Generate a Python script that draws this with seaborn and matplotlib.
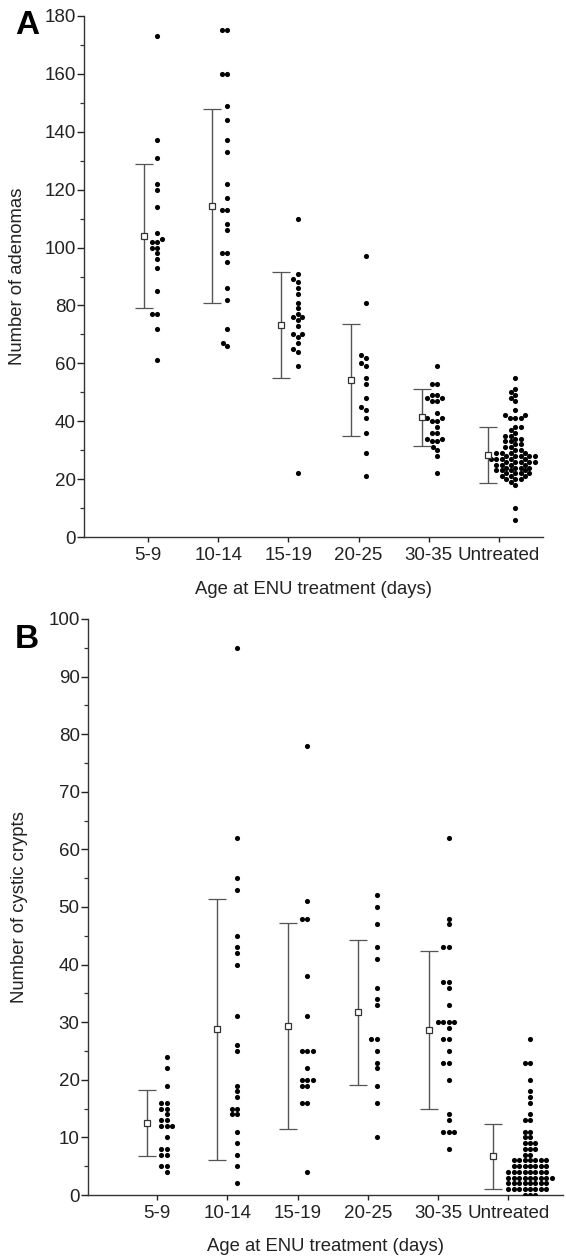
import numpy as np
import pandas as pd
import matplotlib
matplotlib.use("Agg")
import matplotlib.pyplot as plt
import seaborn as sns
from matplotlib.ticker import MultipleLocator

# ---------------- data ----------------
groups = ["5-9", "10-14", "15-19", "20-25", "30-35", "Untreated"]

# Panel A: number of adenomas per mouse
a_5_9 = [173, 137, 131, 122, 120, 114, 105, 103, 102, 102, 100, 100, 98, 96, 93, 85, 77, 77, 72, 61]
a_10_14 = [175, 175, 160, 160, 149, 144, 137, 133, 122, 117, 113, 113, 108, 106, 98, 98, 95, 86, 82, 72, 67, 66]
a_15_19 = [110, 91, 89, 88, 86, 84, 81, 79, 77, 76, 76, 75, 73, 70, 70, 69, 67, 65, 64, 59, 22]
a_20_25 = [97, 81, 63, 62, 60, 59, 55, 53, 48, 45, 44, 41, 36, 29, 21]
a_30_35 = [59, 53, 53, 49, 49, 48, 48, 47, 47, 43, 41, 41, 40, 40, 38, 36, 36, 34, 34, 33, 33, 31, 30, 28, 22]
a_untreated = [55, 51, 50, 49, 48, 47, 44, 42, 42, 41, 41, 41, 38, 38, 37, 36, 35, 35, 34, 34,
               33, 33, 32, 32, 31, 31, 30, 30, 29, 29, 29, 29, 28, 28, 28, 28, 28, 27, 27, 27,
               27, 27, 26, 26, 26, 26, 26, 25, 25, 25, 25, 24, 24, 24, 24, 23, 23, 23, 23, 22,
               22, 22, 22, 21, 21, 21, 20, 20, 20, 19, 18, 10, 6]
a_mean = [104.0, 114.3, 73.3, 54.3, 41.4, 28.3]
a_sd = [25.0, 33.5, 18.2, 19.3, 9.8, 9.7]

# Panel B: number of cystic crypts per mouse
b_5_9 = [24, 22, 19, 16, 16, 15, 15, 14, 13, 13, 12, 12, 12, 10, 8, 8, 7, 7, 5, 5, 4]
b_10_14 = [95, 62, 55, 53, 45, 43, 42, 40, 31, 26, 25, 19, 18, 17, 15, 15, 14, 14, 11, 9, 7, 5, 2]
b_15_19 = [78, 51, 48, 48, 38, 31, 25, 25, 25, 22, 20, 20, 20, 19, 19, 16, 16, 4]
b_20_25 = [52, 50, 47, 43, 41, 36, 34, 33, 27, 27, 25, 23, 22, 19, 16, 10]
b_30_35 = [62, 48, 47, 43, 43, 37, 37, 36, 33, 30, 30, 30, 30, 29, 27, 27, 25, 23, 23, 20, 14, 13, 11, 11, 11, 8]
b_untreated = [27, 23, 23, 20, 18, 17, 16, 14, 13, 13, 11, 11, 10, 10, 9, 9, 9, 8, 8, 8, 7, 7,
               6, 6, 6, 6, 6, 6, 6, 5, 5, 5, 5, 5, 5, 5, 4, 4, 4, 4, 4, 4, 4, 4,
               3, 3, 3, 3, 3, 3, 3, 3, 3, 2, 2, 2, 2, 2, 2, 2, 2, 1, 1, 1, 1, 1, 1, 1, 1, 0, 0, 0]
b_mean = [12.5, 28.8, 29.3, 31.7, 28.7, 6.7]
b_sd = [5.75, 22.65, 17.85, 12.65, 13.7, 5.7]

a_yticks = list(range(0, 181, 20))
b_yticks = list(range(0, 101, 10))

# ---------------- style ----------------
sns.set_theme(style="ticks")
plt.rcParams["font.family"] = ["Liberation Sans", "DejaVu Sans"]
INK = "#222222"
BAR = "#555555"

fig = plt.figure(figsize=(5.66, 12.59), dpi=100)
W, H = 566.0, 1259.0


def make_axes(l, r, t, b):
    return fig.add_axes([l / W, 1 - b / H, (r - l) / W, (b - t) / H])


axA = make_axes(84, 543, 16, 537)
axB = make_axes(88, 563, 619, 1195)


def draw_panel(ax, series, means, sds, dot_off, bar_off, ylim, yticks, minor,
               xlim, ylabel):
    rows = []
    for i, vals in enumerate(series):
        for v in vals:
            rows.append({"xpos": i + dot_off[i], "value": v})
    df = pd.DataFrame(rows)
    sns.swarmplot(data=df, x="xpos", y="value", native_scale=True, orient="v",
                  color="black", size=3.7, linewidth=0, ax=ax, warn_thresh=1.0)
    xs = np.arange(len(means)) + np.array(bar_off)
    ax.errorbar(xs, means, yerr=sds, fmt="s", ms=4.8, mfc="white", mec="#333333",
                mew=0.9, ecolor=BAR, elinewidth=1.0, capsize=6.2, capthick=1.0,
                zorder=3)
    ax.set_xlim(*xlim)
    ax.set_ylim(*ylim)
    ax.set_yticks(yticks)
    ax.yaxis.set_minor_locator(MultipleLocator(minor))
    ax.set_xticks(range(len(groups)))
    ax.set_xticklabels(groups)
    for s in ["top", "right"]:
        ax.spines[s].set_visible(False)
    for s in ["left", "bottom"]:
        ax.spines[s].set_color("#333333")
        ax.spines[s].set_linewidth(1.0)
    ax.tick_params(axis="y", which="major", length=5, width=1.0, pad=1,
                   labelsize=13.5, colors=INK)
    ax.tick_params(axis="y", which="minor", length=3, width=0.9, color="#333333")
    ax.tick_params(axis="x", which="major", length=3.5, width=1.0, pad=4,
                   labelsize=13.5, colors=INK)
    ax.set_ylabel(ylabel, fontsize=13.3, color=INK)
    ax.set_xlabel("Age at ENU treatment (days)", fontsize=13.3, color=INK)
    ax.set_facecolor("white")


draw_panel(axA, [a_5_9, a_10_14, a_15_19, a_20_25, a_30_35, a_untreated],
           a_mean, a_sd,
           dot_off=[0.13, 0.13, 0.13, 0.10, 0.12, 0.23],
           bar_off=[-0.06, -0.09, -0.10, -0.11, -0.10, -0.16],
           ylim=(0, 180), yticks=a_yticks, minor=10,
           xlim=(-0.912, 5.627), ylabel="Number of adenomas")
axA.yaxis.set_label_coords(-0.126, 0.5)
axA.xaxis.set_label_coords(0.5, -0.085)

draw_panel(axB, [b_5_9, b_10_14, b_15_19, b_20_25, b_30_35, b_untreated],
           b_mean, b_sd,
           dot_off=[0.14, 0.14, 0.14, 0.13, 0.15, 0.31],
           bar_off=[-0.14, -0.14, -0.14, -0.14, -0.13, -0.21],
           ylim=(0, 100), yticks=b_yticks, minor=5,
           xlim=(-0.983, 5.78), ylabel="Number of cystic crypts")
axB.yaxis.set_label_coords(-0.126, 0.5)
axB.xaxis.set_label_coords(0.5, -0.074)

fig.text(27 / W, 1 - 26 / H, "A", fontsize=24, fontweight="bold", ha="center",
         va="center", color="black")
fig.text(27 / W, 1 - 640 / H, "B", fontsize=24, fontweight="bold", ha="center",
         va="center", color="black")

fig.savefig("out.png", dpi=100, facecolor="white")
